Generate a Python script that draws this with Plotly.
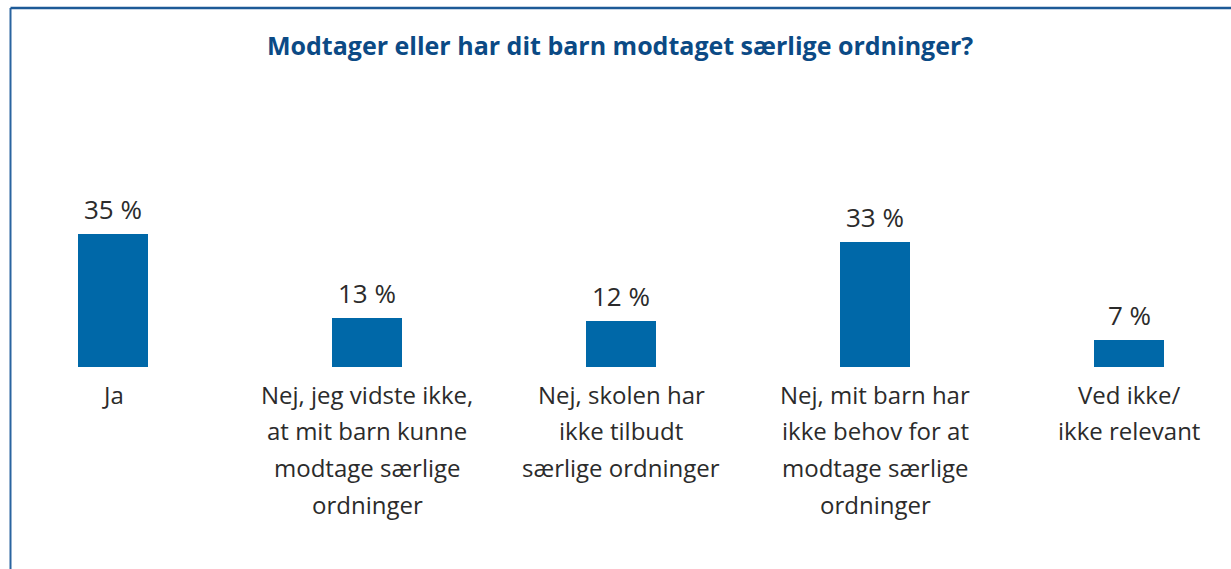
import plotly.graph_objects as go

W, H = 1231, 569

# data
categories = [
    "Ja",
    "Nej, jeg vidste ikke,\nat mit barn kunne\nmodtage særlige\nordninger",
    "Nej, skolen har\nikke tilbudt\nsærlige ordninger",
    "Nej, mit barn har\nikke behov for at\nmodtage særlige\nordninger",
    "Ved ikke/\nikke relevant",
]
values = [35, 13, 12, 33, 7]
value_labels = ["35 %", "13 %", "12 %", "33 %", "7 %"]

title = "Modtager eller har dit barn modtaget særlige ordninger?"

BLUE = "#0068A8"
DARK_BLUE = "#0B4A85"
TEXT = "#2B2B2B"
FONT = "Open Sans"

# pixel layout helpers
x0_px, step_px = 113, 254
base_px, px_per_unit = 367, 3.8
x_range = [-x0_px / step_px, (W - x0_px) / step_px]
y_range = [-(H - base_px) / px_per_unit, base_px / px_per_unit]

xs = list(range(len(categories)))

fig = go.Figure()
fig.add_trace(go.Bar(
    x=xs, y=values, width=70 / step_px,
    marker=dict(color=BLUE, line=dict(width=0)),
    hoverinfo="skip", showlegend=False,
))

annotations = []
# value labels above bars
for x, v, lab in zip(xs, values, value_labels):
    annotations.append(dict(
        x=x, y=v, xref="x", yref="y", text=lab, showarrow=False,
        yanchor="middle", yshift=25,
        font=dict(family=FONT, size=26, color=TEXT),
    ))

# category labels, one annotation per line for the wide line spacing
line_gap = 36.7
for x, cat in zip(xs, categories):
    for i, line in enumerate(cat.split("\n")):
        annotations.append(dict(
            x=x, y=0, xref="x", yref="y", text=line, showarrow=False,
            yanchor="middle", yshift=-(27 + i * line_gap),
            font=dict(family=FONT, size=24, color=TEXT),
        ))

# title
annotations.append(dict(
    x=620 / W, y=1 - 45 / H, xref="paper", yref="paper", text="<b>%s</b>" % title,
    showarrow=False, xanchor="center", yanchor="middle",
    font=dict(family=FONT, size=25, color=DARK_BLUE),
))

# frame: left and top border
shapes = [
    dict(type="line", xref="paper", yref="paper",
         x0=10.5 / W, x1=10.5 / W, y0=0, y1=1 - 8 / H,
         line=dict(color="#2A64A0", width=2)),
    dict(type="line", xref="paper", yref="paper",
         x0=10.5 / W, x1=1, y0=1 - 8 / H, y1=1 - 8 / H,
         line=dict(color="#1D5A97", width=2.5)),
]

fig.update_layout(
    width=W, height=H,
    margin=dict(l=0, r=0, t=0, b=0),
    paper_bgcolor="white", plot_bgcolor="white",
    xaxis=dict(range=x_range, visible=False, fixedrange=True),
    yaxis=dict(range=y_range, visible=False, fixedrange=True),
    annotations=annotations, shapes=shapes,
    bargap=0,
)

# drop the default body margin so the figure sits at the window's top-left
fig.write_html("out.html", config={"displayModeBar": False},
               post_script="document.body.style.margin='0';document.body.style.overflow='hidden';")
